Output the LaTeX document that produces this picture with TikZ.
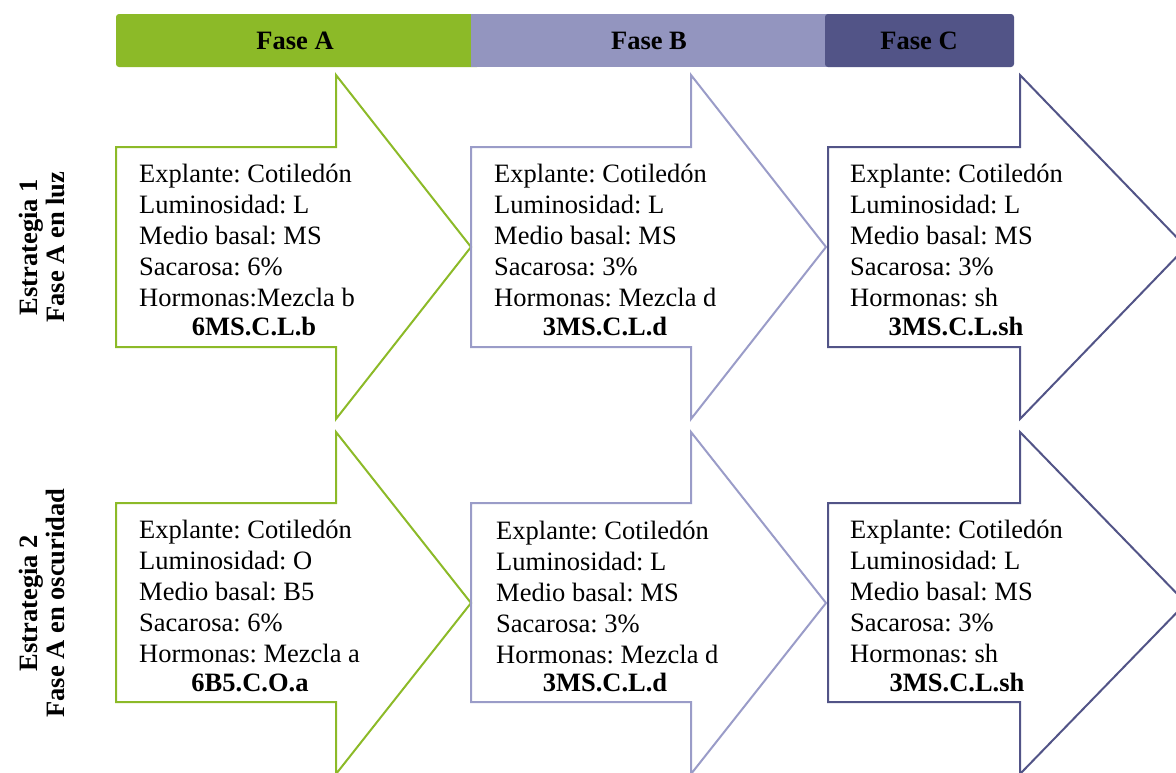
\documentclass[tikz,border=0pt]{standalone}
\usepackage{fontspec}
\setmainfont{Liberation Serif}
\frenchspacing
\definecolor{verde}{HTML}{8CBA28}
\definecolor{lila}{HTML}{9395BF}
\definecolor{lilaborde}{HTML}{9A9CC8}
\definecolor{azul}{HTML}{525487}
\begin{document}
\begin{tikzpicture}[x=1pt,y=-1pt,
  txt/.style={align=left,anchor=north west,inner sep=0pt,font=\fontsize{26.5}{31}\selectfont},
  cod/.style={anchor=base,inner sep=0pt,font=\fontsize{26.5}{31}\selectfont\bfseries},
  fase/.style={inner sep=0pt,font=\fontsize{26.5}{31}\selectfont\bfseries},
  estr/.style={rotate=90,align=center,inner sep=0pt,font=\fontsize{26.5}{27}\selectfont\bfseries},
  flecha/.style={line width=2pt,line join=miter}]
\useasboundingbox (0,0) rectangle (1176,772);
\clip (0,0) rectangle (1176,772);

% barra de fases
\fill[verde,rounded corners=3pt] (116,14) rectangle (480,67);
\fill[lila] (471,14) rectangle (830,67);
\fill[azul,rounded corners=3pt] (825,14) rectangle (1014,67);
\node[fase] (faseA) at (295,41) {Fase A};
\node[fase] (faseB) at (649,41) {Fase B};
\node[fase] (faseC) at (919,41) {Fase C};

% estrategias
\node[estr] (e1) at (42,247) {Estrategia 1\\Fase A en luz};
\node[estr] (e2) at (42,603) {Estrategia 2\\Fase A en oscuridad};

% flechas estrategia 1
\draw[flecha,verde] (116,147) -- (336,147) -- (336,75) -- (471,247) -- (336,419) -- (336,347) -- (116,347) -- cycle;
\draw[flecha,lilaborde] (471,147) -- (691,147) -- (691,75) -- (826,247) -- (691,419) -- (691,347) -- (471,347) -- cycle;
\draw[flecha,azul] (828,147) -- (1020,147) -- (1020,75) -- (1186,247) -- (1020,419) -- (1020,347) -- (828,347) -- cycle;

% flechas estrategia 2
\draw[flecha,verde] (116,503) -- (336,503) -- (336,432) -- (471,603) -- (336,774) -- (336,702) -- (116,702) -- cycle;
\draw[flecha,lilaborde] (471,503) -- (691,503) -- (691,432) -- (826,603) -- (691,774) -- (691,702) -- (471,702) -- cycle;
\draw[flecha,azul] (828,503) -- (1020,503) -- (1020,432) -- (1186,603) -- (1020,774) -- (1020,702) -- (828,702) -- cycle;

% textos estrategia 1
\node[txt] (a1) at (139,164) {Explante: Cotiledón\\Luminosidad: L\\Medio basal: MS\\Sacarosa: 6\%\\Hormonas:Mezcla b};
\node[txt] (b1) at (494,164) {Explante: Cotiledón\\Luminosidad: L\\Medio basal: MS\\Sacarosa: 3\%\\Hormonas: Mezcla d};
\node[txt] (c1) at (850,164) {Explante: Cotiledón\\Luminosidad: L\\Medio basal: MS\\Sacarosa: 3\%\\Hormonas: sh};
\node[cod] (ca1) at (254,335) {6MS.C.L.b};
\node[cod] (cb1) at (605,335) {3MS.C.L.d};
\node[cod] (cc1) at (956,335) {3MS.C.L.sh};

% textos estrategia 2
\node[txt] (a2) at (139,520) {Explante: Cotiledón\\Luminosidad: O\\Medio basal: B5\\Sacarosa: 6\%\\Hormonas: Mezcla a};
\node[txt] (b2) at (496,521) {Explante: Cotiledón\\Luminosidad: L\\Medio basal: MS\\Sacarosa: 3\%\\Hormonas: Mezcla d};
\node[txt] (c2) at (850,520) {Explante: Cotiledón\\Luminosidad: L\\Medio basal: MS\\Sacarosa: 3\%\\Hormonas: sh};
\node[cod] (ca2) at (250,691) {6B5.C.O.a};
\node[cod] (cb2) at (605,691) {3MS.C.L.d};
\node[cod] (cc2) at (957,691) {3MS.C.L.sh};
\end{tikzpicture}
\end{document}
